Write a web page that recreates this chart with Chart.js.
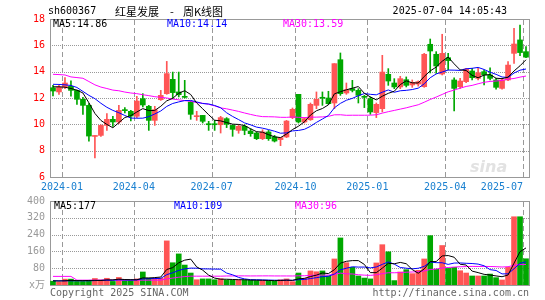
<!DOCTYPE html>
<html><head><meta charset="utf-8">
<script src="https://cdn.jsdelivr.net/npm/chart.js@4"></script>
<style>
body{margin:0;width:545px;height:300px;background:#fff;position:relative;overflow:hidden;font-family:"DejaVu Sans Mono",monospace;}
.t{position:absolute;white-space:nowrap;font-size:10px;line-height:12px;}
.c{font-family:'Noto Sans CJK SC';font-size:11px;line-height:14px;color:#000;top:4px;}
canvas{position:absolute;left:0;}
</style></head><body>
<canvas id="main" style="top:0" width="545" height="195"></canvas>
<canvas id="vol" style="top:195px" width="545" height="105"></canvas>
<div class="t" style="left:48px;top:5px;color:#000">sh600367</div>
<div class="t c" style="left:115px">红星发展</div>
<div class="t c" style="left:170px">-</div>
<div class="t c" style="left:183px">周K线图</div>
<div class="t" style="right:38px;top:5px;color:#000">2025-07-04 14:05:43</div>
<div class="t" id="lm5" style="left:53px;top:18px;color:#000"></div>
<div class="t" id="lm10" style="left:167px;top:18px;color:#0000ff"></div>
<div class="t" id="lm30" style="left:283px;top:18px;color:#ff00ff"></div>
<div class="t" id="lv5" style="left:54px;top:200px;color:#000"></div>
<div class="t" id="lv10" style="left:174px;top:200px;color:#0000ff"></div>
<div class="t" id="lv30" style="left:295px;top:200px;color:#ff00ff"></div>
<div class="t" style="left:470px;top:158px;font-family:'DejaVu Sans';font-style:italic;font-weight:bold;font-size:16px;line-height:18px;color:#e2e2e2">sina</div>
<div class="t" style="left:50px;top:287px;color:#666">Copyright 2025 SINA.COM</div>
<div class="t" style="right:16px;top:287px;color:#666">http://finance.sina.com.cn</div>
<script>
const categories = ['2023-12-22','2023-12-29','2024-01-05','2024-01-12','2024-01-19','2024-01-26','2024-02-02','2024-02-08','2024-02-23','2024-03-01',
'2024-03-08','2024-03-15','2024-03-22','2024-03-29','2024-04-03','2024-04-12','2024-04-19','2024-04-26','2024-04-30','2024-05-10',
'2024-05-17','2024-05-24','2024-05-31','2024-06-07','2024-06-14','2024-06-21','2024-06-28','2024-07-05','2024-07-12','2024-07-19',
'2024-07-26','2024-08-02','2024-08-09','2024-08-16','2024-08-23','2024-08-30','2024-09-06','2024-09-13','2024-09-20','2024-09-27',
'2024-09-30','2024-10-11','2024-10-18','2024-10-25','2024-11-01','2024-11-08','2024-11-15','2024-11-22','2024-11-29','2024-12-06',
'2024-12-13','2024-12-20','2024-12-27','2025-01-03','2025-01-10','2025-01-17','2025-01-24','2025-01-27','2025-02-07','2025-02-14',
'2025-02-21','2025-02-28','2025-03-07','2025-03-14','2025-03-21','2025-03-28','2025-04-03','2025-04-11','2025-04-18','2025-04-25',
'2025-04-30','2025-05-09','2025-05-16','2025-05-23','2025-05-30','2025-06-06','2025-06-13','2025-06-20','2025-06-27','2025-07-04'];
const open = [12.78,12.46,12.84,12.89,12.58,11.90,11.44,9.08,9.16,9.92,
10.38,10.18,11.08,10.99,10.61,11.95,11.37,10.30,11.87,12.33,
13.42,12.46,12.10,11.70,10.58,10.68,10.02,10.00,9.97,10.43,
9.92,9.54,9.85,9.49,9.34,8.91,9.42,9.04,8.84,9.04,
10.51,12.28,10.18,10.35,11.44,12.02,12.00,11.62,14.91,12.38,
12.71,12.58,12.10,11.95,10.89,11.19,13.80,13.14,12.84,13.39,
12.99,13.06,12.86,16.08,15.32,13.82,15.06,13.37,12.86,13.24,
14.05,13.49,14.00,13.75,13.37,12.73,13.37,15.39,16.41,15.52];
const high = [12.96,12.96,13.55,13.30,12.60,12.05,11.57,9.14,9.97,10.81,
10.61,11.44,11.27,11.06,12.13,12.33,11.44,11.37,12.58,14.78,
13.97,13.97,13.34,11.77,10.99,10.68,10.23,10.30,10.61,10.51,
9.97,9.97,9.97,9.67,9.42,9.59,9.54,9.16,8.99,10.30,
11.24,12.28,10.51,11.62,12.46,12.46,12.51,14.61,15.42,13.14,
13.34,12.71,12.20,12.08,11.62,15.24,14.23,13.47,13.65,13.60,
13.37,13.30,15.39,16.48,15.52,16.84,15.39,13.54,13.49,14.25,
14.25,14.25,14.13,14.30,13.49,13.49,14.76,17.29,17.54,15.90];
const low = [12.15,12.28,12.71,12.13,11.52,10.76,8.73,7.44,9.09,9.54,
9.85,10.05,10.86,10.25,10.51,11.32,9.54,9.92,11.82,12.28,
11.95,12.08,12.00,10.38,10.30,10.10,9.54,9.54,9.34,9.75,
9.09,9.32,9.21,9.09,8.84,8.84,8.78,8.66,8.38,8.99,
10.43,10.10,10.10,10.30,11.19,11.44,11.52,11.19,12.20,12.28,
12.46,11.62,11.27,10.76,10.51,10.94,12.96,12.71,12.71,12.84,
12.81,12.90,12.81,13.90,13.87,13.75,14.13,11.01,12.73,13.16,
13.37,13.37,12.99,13.37,12.68,12.68,13.32,14.63,15.22,15.06];
const close = [12.53,12.84,13.14,12.58,11.90,11.44,9.11,9.11,9.92,10.38,
10.18,11.06,11.04,10.63,11.77,11.47,10.30,11.11,12.20,13.85,
12.41,12.25,12.05,10.76,10.63,10.23,9.97,9.97,10.51,10.00,
9.62,9.85,9.54,9.29,8.91,9.42,8.91,8.73,8.99,10.25,
11.14,10.18,10.43,11.52,11.90,11.98,11.57,14.61,12.33,12.63,
12.58,12.20,12.05,10.94,11.52,13.97,13.29,12.84,13.47,12.96,
13.19,13.24,15.32,15.57,14.43,15.39,14.84,12.73,13.29,14.20,
13.54,13.92,13.75,13.49,12.81,13.37,14.50,16.10,15.45,15.10];
const volume = [18,14,28,28,17,17,18,31,24,32,
17,36,21,21,29,62,33,32,33,210,
106,148,95,57,25,29,29,25,30,24,
23,24,24,22,21,21,21,19,25,29,
16,57,32,67,63,67,43,124,224,106,
84,43,33,29,105,192,158,21,62,73,
54,70,124,235,75,188,79,84,68,57,
43,43,43,52,35,24,84,325,325,125];
const ma5Head = [12.85,12.85,12.82,12.72];
const ma10Head = [13.04,13.03,13.00,12.95,12.80,12.50,12.20,11.95,11.60];
const ma30Head = [13.80,13.78,13.75,13.60,13.55,13.50,13.25,13.00,12.83,12.72,
12.60,12.55,12.45,12.38,12.33,12.25,12.18,12.10,12.05,12.00,
11.92,11.86,11.80,11.75,11.65,11.60,11.52,11.40,11.25];
const vma5Head = [20,19,20,22];
const vma10Head = [20,20,20,20,20,20,20,21,22];
const vma30Head = [41,41,41,41,23,23,23,23,23,23,
23,23,23,23,23,23,23,23,23,29,
33,37,40,42,42,42,42,42,42];
const priceTicks = [6,8,10,12,14,16,18];
const volTicks = [0,80,160,240,320,400];
const monthTicks = ['2024-01','2024-04','2024-07','2024-10','2025-01','2025-04','2025-07'];
const legendMain = ['MA5:14.86','MA10:14.14','MA30:13.59'];
const legendVol = ['MA5:177','MA10:109','MA30:96'];

document.getElementById('lm5').textContent = legendMain[0];
document.getElementById('lm10').textContent = legendMain[1];
document.getElementById('lm30').textContent = legendMain[2];
document.getElementById('lv5').textContent = legendVol[0];
document.getElementById('lv10').textContent = legendVol[1];
document.getElementById('lv30').textContent = legendVol[2];

const RED = '#ff5555', GREEN = '#00a800';
const N = categories.length;
const idx = categories.map((_, i) => i);
const col = idx.map(i => close[i] >= open[i] ? RED : GREEN);
function ma(src, n, head) {
  return src.map((_, i) => {
    if (i < n - 1) return head[i];
    let s = 0; for (let k = i - n + 1; k <= i; k++) s += src[k];
    return s / n;
  });
}
const pts = arr => arr.map((v, i) => ({x: i, y: v}));
const tickPos = monthTicks.map(m => categories.findIndex(c => c.startsWith(m)) - 0.5);

const FONT = {family: '"DejaVu Sans Mono", "Noto Sans CJK SC", monospace', size: 10};
function makeFrame(id) {
  return {
    id: id,
    beforeDatasetsDraw(chart) {
      const {ctx, chartArea: a} = chart;
      const x = chart.scales.x, y = chart.scales.y;
      ctx.save();
      ctx.fillStyle = '#999999';
      y.ticks.forEach(t => {
        const py = Math.round(y.getPixelForValue(t.value));
        if (py <= a.top + 2 || py >= a.bottom - 2) return;
        for (let px = Math.ceil(a.left) + 2; px < a.right; px += 2) ctx.fillRect(px, py, 1, 1);
      });
      ctx.fillStyle = '#999999';
      x.ticks.forEach(t => {
        const px = Math.round(x.getPixelForValue(t.value));
        for (let py = Math.ceil(a.top) + 1; py < a.bottom; py += 8) ctx.fillRect(px, py, 1, Math.min(5, a.bottom - py));
      });
      ctx.restore();
    },
    afterDraw(chart) {
      const {ctx, chartArea: a} = chart;
      ctx.save(); ctx.fillStyle = '#999999';
      ctx.fillRect(a.left, Math.round(a.top), a.right - a.left + 1, 1);
      ctx.fillRect(Math.round(a.right), a.top, 1, a.bottom - a.top);
      ctx.restore();
    }
  };
}
function noPad(s) { s.paddingLeft = 0; s.paddingRight = 0; s.paddingTop = 0; s.paddingBottom = 0; }
function xScale(showLabels, h) {
  return {
    type: 'linear', min: -0.5, max: N - 0.5, offset: false,
    afterBuildTicks(s) { s.ticks = tickPos.map(v => ({value: v})); },
    afterFit(s) { s.height = h; noPad(s); },
    ticks: {display: showLabels, autoSkip: false, maxRotation: 0, padding: 4, color: '#1a80d0', font: FONT,
      // the last month label sits left of its line, inside the plot
      callback: (v, i) => i === monthTicks.length - 1 ? monthTicks[i] + '       ' : monthTicks[i]},
    grid: {display: false, drawTicks: false, offset: false},
    border: {color: '#999', width: 1}
  };
}
function lineDs(data, color) {
  return {type: 'line', data: pts(data), borderColor: color, borderWidth: 1, pointRadius: 0, tension: 0, order: 0};
}
const common = {responsive: false, animation: false, devicePixelRatio: 1,
  plugins: {legend: {display: false}, tooltip: {enabled: false}}};

new Chart(document.getElementById('main'), {
  type: 'bar',
  data: {datasets: [
    lineDs(ma(close, 5, ma5Head), '#000000'),
    lineDs(ma(close, 10, ma10Head), '#0000ff'),
    lineDs(ma(close, 30, ma30Head), '#ff00ff'),
    {data: idx.map(i => ({x: i, y: [open[i], close[i]]})), backgroundColor: col, barThickness: 5, minBarLength: 1, grouped: false, order: 1},
    {data: idx.map(i => ({x: i, y: [low[i], high[i]]})), backgroundColor: col, barThickness: 1, minBarLength: 1, grouped: false, order: 2}
  ]},
  options: Object.assign({}, common, {
    layout: {padding: {top: 19, right: 16, left: 0, bottom: 0}},
    scales: {
      x: xScale(true, 18),
      y: {min: priceTicks[0], max: priceTicks[priceTicks.length - 1],
        afterBuildTicks(s) { s.ticks = priceTicks.map(v => ({value: v})); },
        afterFit(s) { s.width = 50; noPad(s); },
        ticks: {color: '#ff0000', font: FONT, padding: 5},
        grid: {display: false, drawTicks: false},
        border: {color: '#999', width: 1}}
    }
  }),
  plugins: [makeFrame('frameMain')]
});

new Chart(document.getElementById('vol'), {
  type: 'bar',
  data: {datasets: [
    lineDs(ma(volume, 5, vma5Head), '#000000'),
    lineDs(ma(volume, 10, vma10Head), '#0000ff'),
    lineDs(ma(volume, 30, vma30Head), '#ff00ff'),
    {data: idx.map(i => ({x: i, y: volume[i]})), backgroundColor: col, barThickness: 5, grouped: false, order: 1}
  ]},
  options: Object.assign({}, common, {
    layout: {padding: {top: 6, right: 16, left: 0, bottom: 0}},
    scales: {
      x: xScale(false, 15),
      y: {min: volTicks[0], max: volTicks[volTicks.length - 1],
        afterBuildTicks(s) { s.ticks = volTicks.map(v => ({value: v})); },
        afterFit(s) { s.width = 50; noPad(s); },
        ticks: {color: '#999', font: FONT, padding: 5, callback: v => v === 0 ? 'x万' : String(v)},
        grid: {display: false, drawTicks: false},
        border: {color: '#999', width: 1}}
    }
  }),
  plugins: [makeFrame('frameVol')]
});
</script>
</body></html>
